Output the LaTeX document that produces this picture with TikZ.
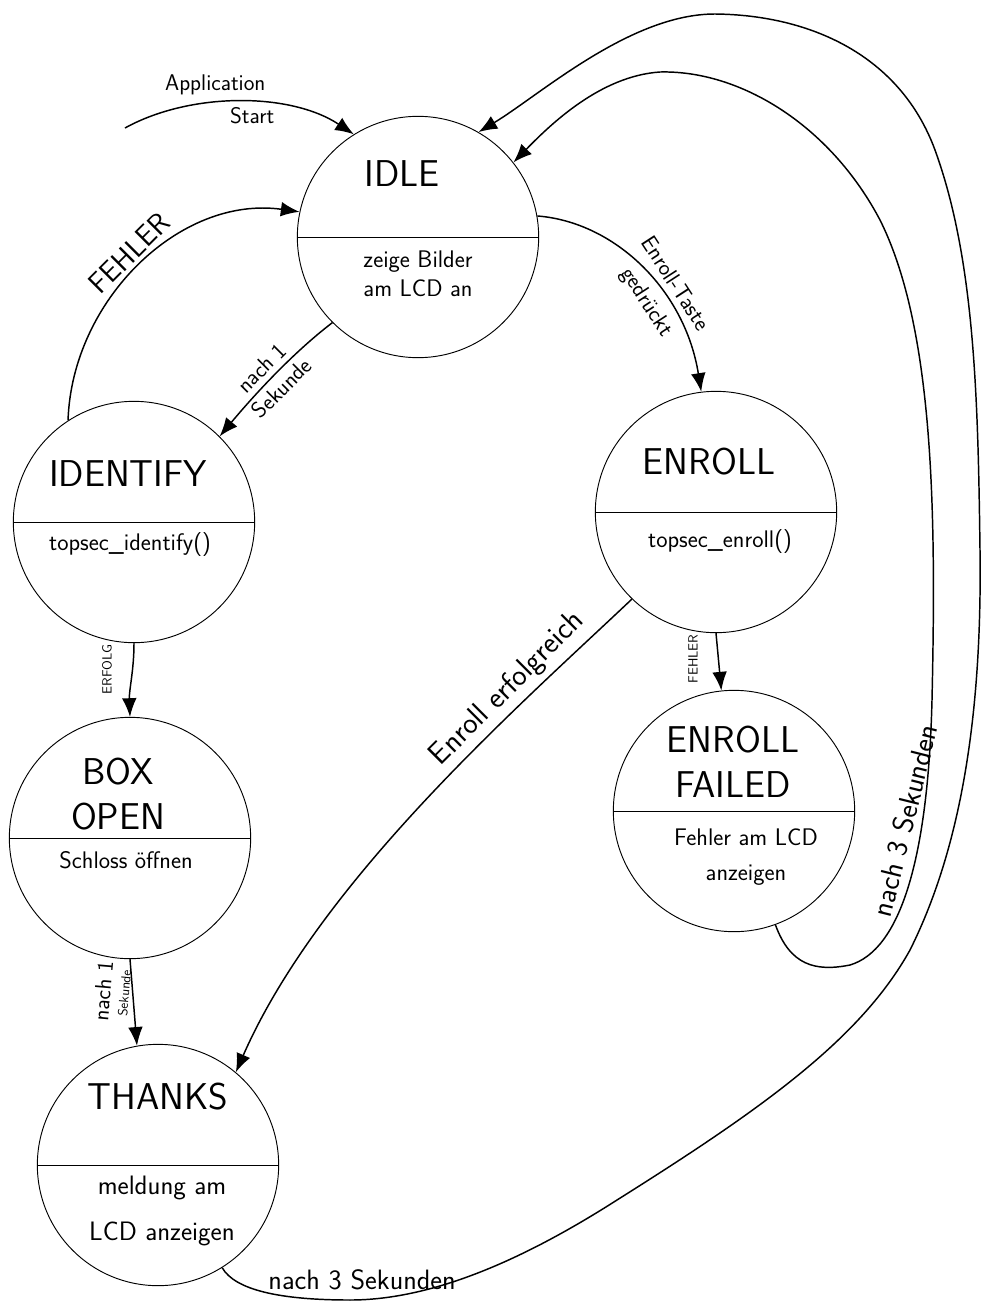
\documentclass[tikz,border=0pt]{standalone}
\usepackage{amsmath}
\usetikzlibrary{arrows.meta}

\tikzset{
  state/.style={draw, circle, inner sep=0pt, minimum size=181pt, line width=0.7pt},
  statename/.style={font=\sffamily\fontsize{28}{34}\selectfont, align=center, inner sep=0.75pt},
  stateaction/.style={font=\sffamily\fontsize{18}{22}\selectfont, align=center, inner sep=0.75pt},
  trans/.style={line width=1.1pt, -{Latex[length=14pt,width=11pt]}},
  translabel/.style={font=\sffamily\fontsize{17}{20}\selectfont, inner sep=2pt},
  smalllabel/.style={font=\sffamily\fontsize{10}{12}\selectfont, inner sep=1pt},
}

\begin{document}
\begin{tikzpicture}[x=0.75pt,y=0.75pt,yscale=-1,xscale=1]
\useasboundingbox (0,0) rectangle (983,1303);

%Shape: Circles
\node[state] (idle) at (418,237) {};
\node[state] (identify) at (134,522) {};
\node[state] (enroll) at (716,512) {};
\node[state] (enrollfailed) at (734,811) {};
\node[state] (boxopen) at (130,838) {};
\node[state] (thanks) at (158,1165) {};
%Straight Lines: dividers
\foreach \s in {idle,identify,enroll,enrollfailed,boxopen,thanks}
  \draw[line width=0.7pt] (\s.west) -- (\s.east);

% Text Node
\node[statename] (idlename) at (402,174) {IDLE};
\node[stateaction] (idleaction) at (418,274) {zeige Bilder\\am LCD an};
% Text Node
\node[statename] (identifyname) at (128,474) {IDENTIFY};
\node[stateaction] (identifyaction) at (130,545) {topsec\_identify()};
% Text Node
\node[statename] (enrollname) at (709,462) {ENROLL};
\node[stateaction] (enrollaction) at (720,542) {topsec\_enroll()};
% Text Node
\node[statename] (enrollfailedname) at (733,762) {ENROLL\\FAILED};
\node[stateaction, font=\sffamily\fontsize{18}{26}\selectfont] (enrollfailedaction) at (746,857) {Fehler am LCD\\anzeigen};
% Text Node
\node[statename] (boxopenname) at (118,794) {BOX\\OPEN};
\node[stateaction] (boxopenaction) at (126,860) {Schloss öffnen};
% Text Node
\node[statename] (thanksname) at (158,1097) {THANKS};
\node[stateaction, font=\sffamily\fontsize{20}{34}\selectfont] (thanksaction) at (162,1211) {meldung am\\LCD anzeigen};

%Curve: start
\coordinate (appstart) at (125,128);
\draw[trans] (appstart) .. controls (190,92) and (290,92) .. (idle.122)
  node[translabel, pos=0.4, above=3pt] (lblapp) {Application}
  node[translabel, pos=0.55, below=1pt] (lblstart) {Start};

%Curve: identify -> idle
\draw[trans] (identify.123) .. controls (72,300) and (180,195) .. (idle.168)
  node[translabel, font=\sffamily\fontsize{22}{26}\selectfont, pos=0.5, rotate=45, above=2pt] (lblfehler) {FEHLER};

%Curve: idle -> identify
\draw[trans] (idle.225) .. controls (290,355) and (250,400) .. (identify.45)
  node[translabel, pos=0.5, rotate=45, above=2pt] (lblnach) {nach 1}
  node[translabel, pos=0.5, rotate=45, below=2pt] (lblsek) {Sekunde};

%Curve: idle -> enroll
\draw[trans] (idle.10) .. controls (615,222) and (685,290) .. (enroll.97)
  node[translabel, pos=0.62, rotate=-57, above=4pt] (lbltaste) {Enroll-Taste}
  node[translabel, pos=0.62, rotate=-57, below=4pt] (lblgedr) {gedrückt};

%Curve: identify -> boxopen
\draw[trans] (identify.south) .. controls (134,670) and (129,690) .. (boxopen.north)
  node[smalllabel, pos=0.35, rotate=90, above=14pt] (lblerfolg) {ERFOLG};

%Straight Lines: enroll -> enrollfailed
\draw[trans] (enroll.south) -- (enrollfailed.96)
  node[smalllabel, pos=0.45, rotate=90, above=14pt] (lblfehler2) {FEHLER};

%Straight Lines: boxopen -> thanks
\draw[trans] (boxopen.south) -- (thanks.100)
  node[smalllabel, pos=0.4, rotate=85, above=1pt] (lblsek2) {Sekunde}
  node[translabel, pos=0.4, rotate=85, above=14pt] (lblnach2) {nach 1};

%Curve: enroll -> thanks
\draw[trans] (enroll.226) .. controls (520,705) and (320,880) .. (thanks.50)
  node[translabel, font=\sffamily\fontsize{23}{27}\selectfont, pos=0.28, rotate=45, above=2pt] (lblerfolgreich) {Enroll erfolgreich};

%Curve: enrollfailed -> idle
\draw[trans] (enrollfailed.290) .. controls (790,965) and (815,972) .. (850,965)
  .. controls (900,950) and (928,860) .. (932,700)
  node[translabel, font=\sffamily\fontsize{22}{26}\selectfont, pos=0.7, rotate=76, above=3pt] (lblnach3a) {nach 3 Sekunden}
  .. controls (936,520) and (935,330) .. (880,220)
  .. controls (830,125) and (740,70) .. (660,72)
  .. controls (600,76) and (550,125) .. (idle.38);

%Curve: thanks -> idle
\draw[trans] (thanks.302) .. controls (235,1290) and (280,1300) .. (350,1300)
  .. controls (430,1300) and (520,1262) .. (617,1200)
  node[translabel, font=\sffamily\fontsize{21}{25}\selectfont, pos=0.05, above=5pt] (lblnach3b) {nach 3 Sekunden}
  .. controls (760,1110) and (860,1040) .. (910,950)
  .. controls (965,840) and (982,700) .. (980,550)
  .. controls (978,400) and (975,260) .. (935,150)
  .. controls (900,55) and (810,15) .. (715,14)
  .. controls (630,14) and (540,95) .. (idle.60);

\end{tikzpicture}
\end{document}
